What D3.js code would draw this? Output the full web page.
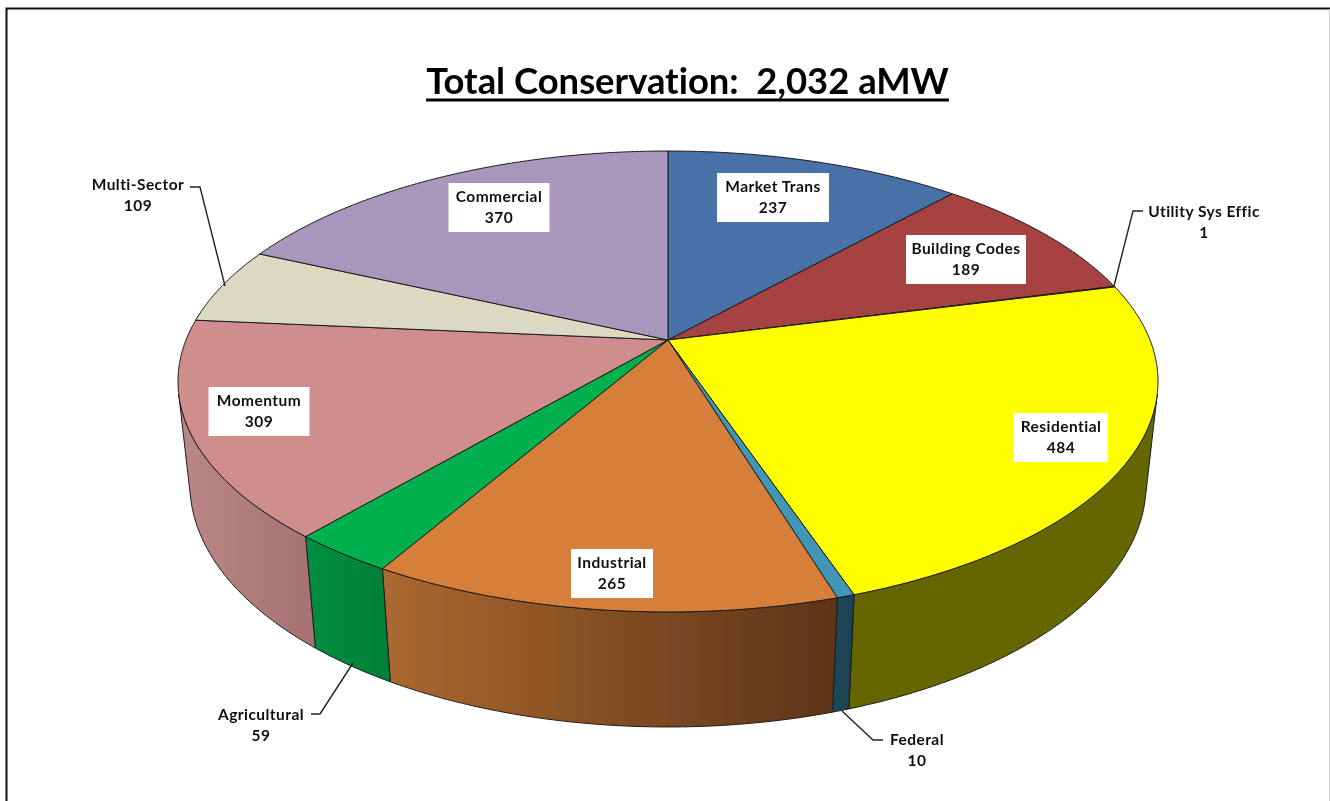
<!DOCTYPE html>
<html>
<head>
<meta charset="utf-8">
<script src="https://cdn.jsdelivr.net/npm/d3@7"></script>
<style>
  html, body { margin: 0; padding: 0; background: #fff; overflow: hidden; }
  svg { display: block; }
  text { font-family: Lato, "Open Sans", sans-serif; fill: #111; font-variant-ligatures: none; }
</style>
</head>
<body>
<script>
  var titleText = "Total Conservation:  2,032 aMW";

  // chart values, clockwise from 12 o'clock
  var categories = ["Market Trans", "Building Codes", "Utility Sys Effic", "Residential", "Federal",
                    "Industrial", "Agricultural", "Momentum", "Multi-Sector", "Commercial"];
  var values = [237, 189, 1, 484, 10, 265, 59, 309, 109, 370];

  // colours per slice: top face, then the wall gradient left -> right
  var topColors = ["#4671a7", "#a64342", "#8b9a46", "#ffff00", "#3f96b4",
                   "#d67f3b", "#00b04f", "#cf8d8c", "#dcd9c3", "#a797bc"];
  var wallLeft = ["#2a4464", "#642827", "#535c2a", "#666600", "#1c4757",
                  "#ab6830", "#008f40", "#ba8887", "#84826f", "#645a71"];
  var wallRight = ["#2a4464", "#642827", "#535c2a", "#666600", "#1c4151",
                   "#5d3418", "#007f39", "#a67170", "#84826f", "#645a71"];

  // label placement: centre x, y of first line, white box width (0 = no box)
  var labelX = [773, 966, 1204, 1061, 917, 612, 261, 259, 138, 499];
  var labelY = [187, 249, 212, 427, 740, 563, 715, 401, 185, 197];
  var labelBox = [112, 120, 0, 94, 0, 82, 0, 101, 0, 101];

  // leader lines for the labels outside the pie
  var leaders = [
    [[1143, 211], [1133, 211], [1114, 286]],
    [[883, 740], [873, 740], [842, 711]],
    [[311, 714], [320, 714], [353, 663]],
    [[190, 187], [200, 187], [225, 286]]
  ];

  var width = 1330,
      height = 801;

  // perspective of the pie: unit circle (u, v) at depth h -> page
  var cx = 668, cy = 340,
      scaleU = 482, scaleV = 223,
      tilt = -0.18, sink = 0.024, drop = 103.6;

  function project(angle, h) {
    var u = Math.sin(angle), v = -Math.cos(angle);
    var w = 1 + tilt * v + sink * h;
    return [cx + scaleU * u / w, cy + (scaleV * v + drop * h) / w];
  }

  // the wall shows only on the near side of the tangent seen from the vanishing point
  var vanish = (drop / sink) / (scaleV + tilt * -1 * (drop / sink));
  var wallFrom = Math.acos(-1 / vanish),
      wallTo = 2 * Math.PI - wallFrom;

  function samples(a0, a1, h) {
    var n = Math.max(2, Math.ceil((a1 - a0) / 0.01)), pts = [];
    for (var i = 0; i <= n; i++) {
      pts.push(project(a0 + (a1 - a0) * i / n, h));
    }
    return pts;
  }

  var line = d3.line();

  var pie = d3.pie().sort(null).startAngle(0).endAngle(2 * Math.PI);
  var slices = pie(values);

  var svg = d3.select("body").append("svg")
      .attr("width", width)
      .attr("height", height);

  var defs = svg.append("defs");

  // the source picture is a slightly soft screenshot
  defs.append("filter")
      .attr("id", "soft")
      .attr("filterUnits", "userSpaceOnUse")
      .attr("x", 0).attr("y", 0)
      .attr("width", width).attr("height", height)
      .append("feGaussianBlur")
      .attr("stdDeviation", 0.5);

  var chart = svg.append("g").attr("filter", "url(#soft)");

  chart.append("rect")
      .attr("width", width)
      .attr("height", height)
      .attr("fill", "#fff");

  // page frame
  chart.append("path")
      .attr("d", "M6.5," + (height + 5) + "V8.5H" + (width + 5))
      .attr("fill", "none")
      .attr("stroke", "#111")
      .attr("stroke-width", 2);

  chart.append("line")
      .attr("x1", 1329.5).attr("x2", 1329.5)
      .attr("y1", 9).attr("y2", height + 5)
      .attr("stroke", "#ccc")
      .attr("stroke-width", 1);

  // walls
  var walls = slices.map(function(d, i) {
    var a0 = Math.max(d.startAngle, wallFrom),
        a1 = Math.min(d.endAngle, wallTo);
    if (a1 <= a0) return null;
    return { i: i, top: samples(a0, a1, 0), bottom: samples(a0, a1, 1).reverse() };
  }).filter(function(d) { return d; });

  walls.forEach(function(w) {
    var pts = w.top.concat(w.bottom);
    defs.append("linearGradient")
        .attr("id", "wall" + w.i)
        .attr("gradientUnits", "userSpaceOnUse")
        .attr("x1", d3.min(pts, function(p) { return p[0]; }))
        .attr("x2", d3.max(pts, function(p) { return p[0]; }))
        .attr("y1", 0)
        .attr("y2", 0)
        .call(function(g) {
          g.append("stop").attr("offset", 0).attr("stop-color", wallLeft[w.i]);
          g.append("stop").attr("offset", 1).attr("stop-color", wallRight[w.i]);
        });
  });

  chart.append("g").selectAll("path")
      .data(walls)
      .enter().append("path")
      .attr("d", function(w) { return line(w.top.concat(w.bottom)) + "Z"; })
      .attr("fill", function(w) { return "url(#wall" + w.i + ")"; })
      .attr("stroke", "#1c1c1c")
      .attr("stroke-width", 1)
      .attr("stroke-linejoin", "round");

  // top faces
  chart.append("g").selectAll("path")
      .data(slices)
      .enter().append("path")
      .attr("d", function(d) {
        return line([[cx, cy]].concat(samples(d.startAngle, d.endAngle, 0))) + "Z";
      })
      .attr("fill", function(d, i) { return topColors[i]; })
      .attr("stroke", "#1c1c1c")
      .attr("stroke-width", 1)
      .attr("stroke-linejoin", "round");

  // leaders
  chart.append("g").selectAll("path")
      .data(leaders)
      .enter().append("path")
      .attr("d", line)
      .attr("fill", "none")
      .attr("stroke", "#222")
      .attr("stroke-width", 1.4);

  // labels
  var label = chart.append("g").selectAll("g")
      .data(categories)
      .enter().append("g");

  label.filter(function(d, i) { return labelBox[i] > 0; })
      .append("rect")
      .attr("x", function(d) { var i = categories.indexOf(d); return labelX[i] - labelBox[i] / 2; })
      .attr("y", function(d) { return labelY[categories.indexOf(d)] - 14; })
      .attr("width", function(d) { return labelBox[categories.indexOf(d)]; })
      .attr("height", 49)
      .attr("fill", "#fff");

  label.append("text")
      .attr("x", function(d, i) { return labelX[i]; })
      .attr("y", function(d, i) { return labelY[i]; })
      .attr("dy", "0.35em")
      .attr("text-anchor", "middle")
      .attr("font-size", "15.5px")
      .attr("letter-spacing", "0.45px")
      .attr("font-weight", 700)
      .text(function(d) { return d; });

  label.append("text")
      .attr("x", function(d, i) { return labelX[i]; })
      .attr("y", function(d, i) { return labelY[i] + 21; })
      .attr("dy", "0.35em")
      .attr("text-anchor", "middle")
      .attr("font-size", "15.5px")
      .attr("letter-spacing", "0.45px")
      .attr("font-weight", 700)
      .text(function(d, i) { return values[i]; });

  // title
  var title = chart.append("text")
      .attr("x", 687.5)
      .attr("y", 94)
      .attr("text-anchor", "middle")
      .attr("font-size", "36.4px")
      .attr("font-weight", 700)
      .attr("xml:space", "preserve")
      .style("white-space", "pre")
      .style("fill", "#000")
      .text(titleText);

  var titleWidth = title.node().getComputedTextLength();
  chart.append("line")
      .attr("x1", 687.5 - titleWidth / 2)
      .attr("x2", 687.5 + titleWidth / 2)
      .attr("y1", 100)
      .attr("y2", 100)
      .attr("stroke", "#000")
      .attr("stroke-width", 3);
</script>
</body>
</html>
